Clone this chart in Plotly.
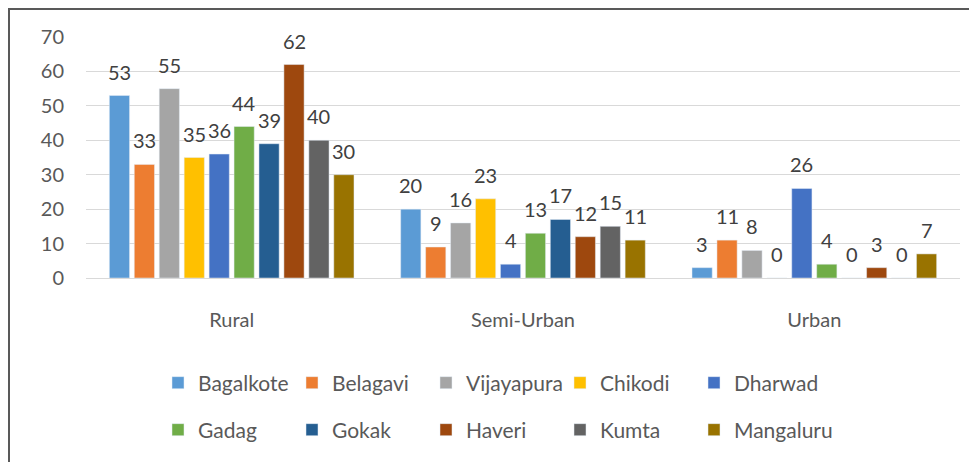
import plotly.graph_objects as go

categories = ["Rural", "Semi-Urban", "Urban"]
districts = ["Bagalkote", "Belagavi", "Vijayapura", "Chikodi", "Dharwad",
             "Gadag", "Gokak", "Haveri", "Kumta", "Mangaluru"]
bagalkote = [53, 20, 3]
belagavi = [33, 9, 11]
vijayapura = [55, 16, 8]
chikodi = [35, 23, 0]
dharwad = [36, 4, 26]
gadag = [44, 13, 4]
gokak = [39, 17, 0]
haveri = [62, 12, 3]
kumta = [40, 15, 0]
mangaluru = [30, 11, 7]
series = [bagalkote, belagavi, vijayapura, chikodi, dharwad,
          gadag, gokak, haveri, kumta, mangaluru]
colors = ["#5B9BD5", "#ED7D31", "#A5A5A5", "#FFC000", "#4472C4",
          "#70AD47", "#255E91", "#9E480E", "#636363", "#997300"]
yticks = [0, 10, 20, 30, 40, 50, 60, 70]

FONT = "Lato"
BARGAP = 0.144
GROUPGAP = 0.19

fig = go.Figure()
n = len(series)
annotations = []
for i, (name, vals, col) in enumerate(zip(districts, series, colors)):
    fig.add_trace(go.Bar(
        x=categories, y=vals, name=name, marker_color=col,
        legend="legend" if i < 5 else "legend2",
    ))
    # data labels placed above each bar using the category axis index
    slot = (1 - BARGAP) / n
    for ci, v in enumerate(vals):
        annotations.append(dict(
            x=ci - (1 - BARGAP) / 2 + (i + 0.5) * slot, y=v,
            xref="x", yref="y", text=str(v), showarrow=False,
            yanchor="middle", yshift=24,
            font=dict(family=FONT, size=20, color="#404040"),
        ))

# invisible spacer entries so the last legend texts are not clipped
for lg in ["legend", "legend2"]:
    fig.add_trace(go.Scatter(
        x=[None], y=[None], mode="markers", name=" ",
        marker=dict(color="rgba(0,0,0,0)", size=1),
        legend=lg, showlegend=True, hoverinfo="skip",
    ))

OFF = 8  # page body margin
W, H = 977 - OFF, 462 - OFF
L, T = 86 - OFF, 37 - OFF
R = W - (960 - OFF)
B = H - (278 - OFF)
pw, ph = W - L - R, H - T - B

def px_x(p):  # page pixel -> paper x
    return (p - OFF - L) / pw

def px_y(p):  # page pixel -> paper y
    return (H - B - (p - OFF)) / ph

legend_common = dict(
    orientation="h", xanchor="left", yanchor="middle",
    font=dict(family=FONT, size=21, color="#595959"),
    entrywidth=89, entrywidthmode="pixels", itemwidth=30,
    bgcolor="rgba(0,0,0,0)",
)

fig.update_layout(
    width=W, height=H,
    margin=dict(l=L, r=R, t=T, b=B, autoexpand=False),
    paper_bgcolor="white", plot_bgcolor="white",
    barmode="group", bargap=BARGAP, bargroupgap=GROUPGAP,
    xaxis=dict(tickfont=dict(family=FONT, size=20, color="#595959"),
               showline=False, ticks="", showgrid=False,
               ticklabelstandoff=28),
    yaxis=dict(range=[0, 70], tickvals=yticks, showgrid=True,
               gridcolor="#D9D9D9", gridwidth=1, zeroline=True,
               zerolinecolor="#D9D9D9", zerolinewidth=1,
               tickfont=dict(family=FONT, size=20, color="#595959"),
               ticks="", ticklabelstandoff=21),
    showlegend=True,
    legend=dict(x=px_x(158), y=px_y(383), **legend_common),
    legend2=dict(x=px_x(158), y=px_y(430), **legend_common),
    annotations=annotations,
    shapes=[dict(type="rect", xref="paper", yref="paper",
                 x0=px_x(9), x1=px_x(1000), y0=px_y(500), y1=px_y(9),
                 line=dict(color="#595959", width=2), layer="below")],
)

fig.write_html("out.html")
